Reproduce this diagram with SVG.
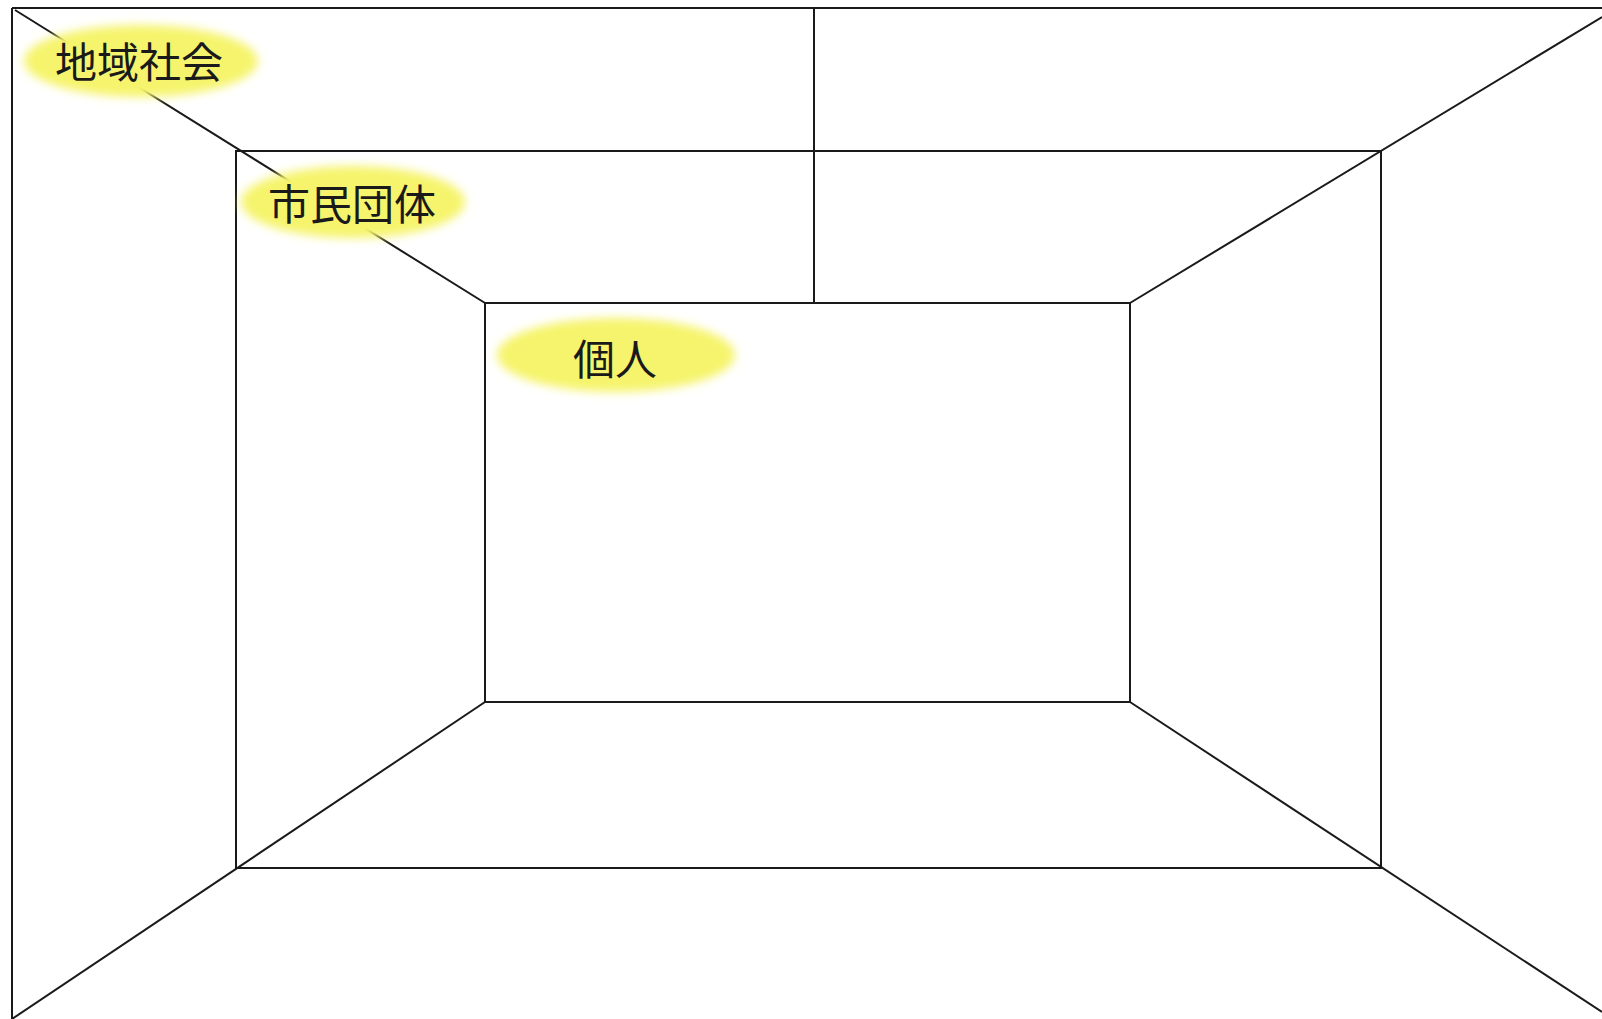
<svg xmlns="http://www.w3.org/2000/svg" width="1602" height="1019" viewBox="0 0 1602 1019">
  <defs>
    <filter id="soft" x="-20%" y="-40%" width="140%" height="180%">
      <feGaussianBlur stdDeviation="5"/>
    </filter>
  </defs>
  <style>
    .ln { stroke: #1a1a1a; stroke-width: 2; fill: none; }
    .hl { fill: #f6f46c; filter: url(#soft); }
    .lbl { font-family: "Noto Sans CJK JP", "Noto Sans CJK SC", sans-serif; font-size: 42px; fill: #1a1a1a; }
  </style>
  <rect width="1602" height="1019" fill="#ffffff"/>
  <g id="connectors">
    <!-- outer frame (top and left edges visible) -->
    <line class="ln" x1="12" y1="8" x2="1602" y2="8"/>
    <line class="ln" x1="12" y1="8" x2="12" y2="1019"/>
    <!-- middle rectangle -->
    <rect class="ln" x="236" y="151" width="1145" height="717"/>
    <!-- inner rectangle -->
    <rect class="ln" x="485" y="303" width="645" height="399"/>
    <!-- vertical divider -->
    <line class="ln" x1="814" y1="8" x2="814" y2="303"/>
    <!-- diagonals -->
    <line class="ln" x1="15" y1="10" x2="485" y2="303"/>
    <line class="ln" x1="1602" y1="17" x2="1130" y2="303"/>
    <line class="ln" x1="12" y1="1019" x2="485" y2="702"/>
    <line class="ln" x1="1602" y1="1012" x2="1130" y2="702"/>
  </g>
  <g id="node-chiiki">
    <ellipse class="hl" cx="141" cy="61" rx="117" ry="36"/>
    <text class="lbl" x="55" y="78">地域社会</text>
  </g>
  <g id="node-shimin">
    <ellipse class="hl" cx="353" cy="202" rx="112" ry="36"/>
    <text class="lbl" x="268" y="220">市民団体</text>
  </g>
  <g id="node-kojin">
    <ellipse class="hl" cx="616" cy="355" rx="119" ry="37"/>
    <text class="lbl" x="573" y="375">個人</text>
  </g>
</svg>
